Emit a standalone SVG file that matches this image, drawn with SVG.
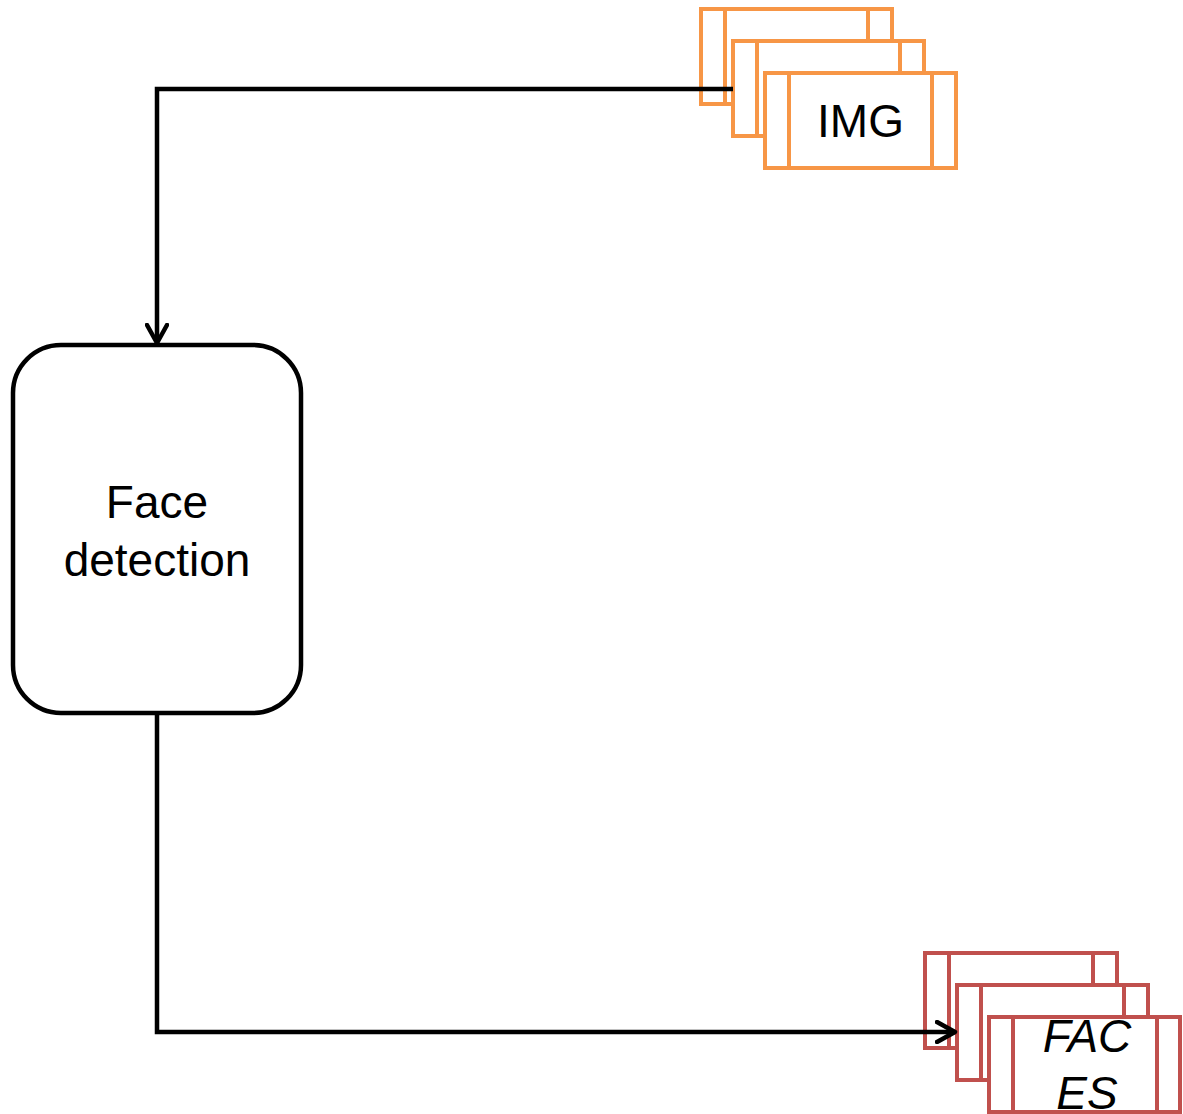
<svg xmlns="http://www.w3.org/2000/svg" width="1183" height="1114" viewBox="0 0 1183 1114">
<defs>
<style>
.img{fill:#fff;stroke:#F79646;stroke-width:4}
.fac{fill:#fff;stroke:#C0504D;stroke-width:4}
.bar-o{stroke:#F79646;stroke-width:4}
.bar-r{stroke:#C0504D;stroke-width:4}
.lbl{font-family:"Liberation Sans",Arial,sans-serif;font-size:46px;fill:#000;text-anchor:middle}
.conn{fill:none;stroke:#000;stroke-width:4.5}
</style>
<marker id="arr" viewBox="0 0 24 24" refX="20" refY="12" markerWidth="24" markerHeight="24" markerUnits="userSpaceOnUse" orient="auto">
<path d="M2,2 L20,12 L2,22" fill="none" stroke="#000" stroke-width="4.5" stroke-linecap="round" stroke-linejoin="round"/>
</marker>
</defs>
<rect width="1183" height="1114" fill="#fff"/>
<g id="img-stack">
<rect class="img" x="701" y="9" width="191" height="95"/>
<line class="bar-o" x1="725" y1="9" x2="725" y2="104"/>
<line class="bar-o" x1="868" y1="9" x2="868" y2="104"/>
<rect class="img" x="733" y="41" width="191" height="95"/>
<line class="bar-o" x1="757" y1="41" x2="757" y2="136"/>
<line class="bar-o" x1="900" y1="41" x2="900" y2="136"/>
<rect class="img" x="765" y="73" width="191" height="95"/>
<line class="bar-o" x1="789" y1="73" x2="789" y2="168"/>
<line class="bar-o" x1="932" y1="73" x2="932" y2="168"/>
<text class="lbl" x="860.5" y="137" font-size="44">IMG</text>
</g>
<g id="face-detection">
<rect x="13" y="345" width="288" height="368" rx="48" ry="48" fill="#fff" stroke="#000" stroke-width="4.5"/>
<text class="lbl" x="157" y="518">Face</text>
<text class="lbl" x="157" y="576">detection</text>
</g>
<g id="faces-stack">
<rect class="fac" x="925" y="953" width="192" height="95"/>
<line class="bar-r" x1="949" y1="953" x2="949" y2="1048"/>
<line class="bar-r" x1="1093" y1="953" x2="1093" y2="1048"/>
<rect class="fac" x="957" y="985" width="191" height="95"/>
<line class="bar-r" x1="981" y1="985" x2="981" y2="1080"/>
<line class="bar-r" x1="1124" y1="985" x2="1124" y2="1080"/>
<rect class="fac" x="989" y="1017" width="191" height="95"/>
<line class="bar-r" x1="1013" y1="1017" x2="1013" y2="1112"/>
<line class="bar-r" x1="1157" y1="1017" x2="1157" y2="1112"/>
<text class="lbl" x="1087" y="1052" font-style="italic">FAC</text>
<text class="lbl" x="1087" y="1109" font-style="italic">ES</text>
</g>
<g id="connectors">
<path class="conn" d="M733,89 L157,89 L157,343" marker-end="url(#arr)"/>
<path class="conn" d="M157,713 L157,1032 L955,1032" marker-end="url(#arr)"/>
</g>
</svg>
